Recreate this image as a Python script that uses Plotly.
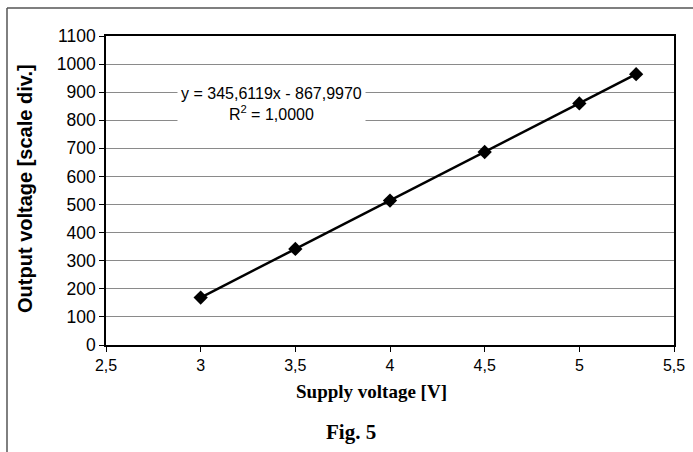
import plotly.graph_objects as go

supply_v = [3.0, 3.5, 4.0, 4.5, 5.0, 5.3]
output_v = [169, 342, 514, 687, 860, 964]

x_tickvals = [2.5, 3, 3.5, 4, 4.5, 5, 5.5]
x_ticktext = ["2,5", "3", "3,5", "4", "4,5", "5", "5,5"]
y_tickvals = list(range(0, 1101, 100))
y_ticktext = [str(v) for v in y_tickvals]

fit_label = "y = 345,6119x - 867,9970<br>R<sup>2</sup> = 1,0000"

fig = go.Figure()
fig.add_trace(go.Scatter(
    x=supply_v, y=output_v, mode="lines+markers",
    line=dict(color="black", width=2.5),
    marker=dict(symbol="diamond", size=11, color="black"),
    showlegend=False,
))

fig.update_layout(
    width=693, height=452,
    margin=dict(l=106, r=19, t=36, b=107),
    paper_bgcolor="white", plot_bgcolor="white",
    font=dict(family="Liberation Sans, Arial, sans-serif", color="black"),
    xaxis=dict(
        range=[2.5, 5.5], tickvals=x_tickvals, ticktext=x_ticktext,
        showgrid=False, zeroline=False, automargin=False,
        showline=True, linecolor="black", linewidth=1.5, mirror=True,
        ticks="outside", ticklen=5, tickcolor="black",
        tickfont=dict(size=16),
    ),
    yaxis=dict(
        range=[0, 1100], tickvals=y_tickvals, ticktext=y_ticktext,
        showgrid=True, gridcolor="#8a8a8a", gridwidth=1, zeroline=False,
        automargin=False,
        showline=True, linecolor="black", linewidth=1.5, mirror=True,
        ticks="outside", ticklen=5, tickcolor="black",
        tickfont=dict(size=17.5),
    ),
)

fig.add_annotation(
    x=0.292, y=0.78, xref="paper", yref="paper", xanchor="center", yanchor="middle",
    text=fit_label, showarrow=False, align="center",
    font=dict(size=16, color="black"), bgcolor="white", borderpad=3,
)

fig.add_annotation(
    x=-0.1426, y=0.505, xref="paper", yref="paper", xanchor="center", yanchor="middle",
    text="<b>Output voltage [scale div.]</b>", textangle=-90, showarrow=False,
    font=dict(size=20, color="black"),
)

fig.add_annotation(
    x=0.467, y=-0.152, xref="paper", yref="paper", xanchor="center", yanchor="middle",
    text="<b>Supply voltage [V]</b>", showarrow=False,
    font=dict(family="Liberation Serif, Times New Roman, serif", size=19, color="black"),
)

fig.add_annotation(
    x=0.431, y=-0.282, xref="paper", yref="paper", xanchor="center", yanchor="middle",
    text="<b>Fig. 5</b>", showarrow=False,
    font=dict(family="Liberation Serif, Times New Roman, serif", size=21, color="black"),
)

# outer frame of the scanned figure
fig.add_shape(type="line", xref="paper", yref="paper",
              x0=-0.1743, x1=-0.1743, y0=1.0906, y1=-0.36,
              line=dict(color="#555555", width=1.5))
fig.add_shape(type="line", xref="paper", yref="paper",
              x0=-0.1743, x1=1.04, y0=1.0906, y1=1.0906,
              line=dict(color="#555555", width=1.5))

fig.write_html(
    "out.html",
    config={"displayModeBar": False},
    post_script="document.body.style.margin='0';document.body.style.overflow='hidden';",
)
